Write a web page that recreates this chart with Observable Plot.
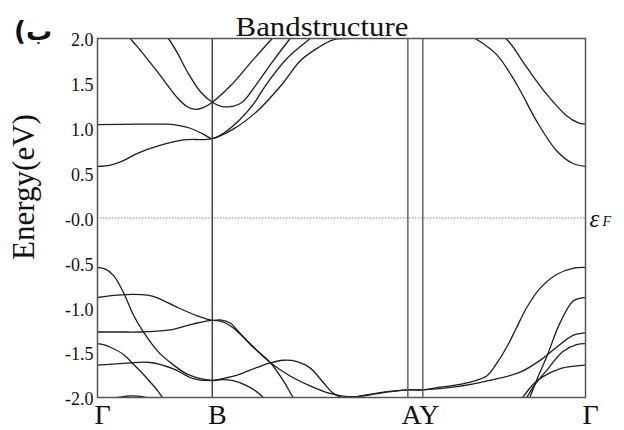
<!DOCTYPE html>
<html><head><meta charset="utf-8">
<script src="https://cdn.jsdelivr.net/npm/d3@7"></script>
<script src="https://cdn.jsdelivr.net/npm/@observablehq/plot@0.6"></script>
<style>
body{margin:0;background:#fff;}
#wrap{position:relative;width:624px;height:430px;overflow:hidden;background:#fff;}
#chart{position:absolute;left:0;top:0;}
#title{position:absolute;left:222px;width:200px;top:13px;text-align:center;font-family:"Liberation Serif",serif;font-size:28px;line-height:28px;color:#111;transform:scaleX(1.1);}
#ylab{position:absolute;left:-76px;top:170px;width:200px;height:34px;line-height:34px;text-align:center;font-family:"Liberation Serif",serif;font-size:31px;color:#111;transform:rotate(-90deg);}
#tag{position:absolute;left:14px;top:14px;font-family:"DejaVu Sans",sans-serif;font-weight:bold;font-size:26px;line-height:34px;color:#111;}
</style></head><body>
<div id="wrap">
  <div id="chart"></div>
  <div id="title">Bandstructure</div>
  <div id="ylab">Energy(eV)</div>
  <div id="tag" dir="rtl">ب)</div>
</div>
<script>
// k-path (arbitrary path-length units) and labels
const kLabels = ["Γ", "B", "A", "Y", "Γ"];
const kPos = [0, 115, 311, 326, 489];
// y ticks
const yTicks = [2, 1.5, 1, 0.5, 0, -0.5, -1, -1.5, -2];
const yTickLabels = ["2.0", "1.5", "1.0", "0.5", "-0.0", "-0.5", "-1.0", "-1.5", "-2.0"];
const fermi = 0;

// conduction bands [k, E(eV)]
const c1 = [[0,0.575],[13,0.59],[26,0.64],[40,0.72],[60,0.80],[86,0.87],[115,0.885],[136,0.99],[160,1.19],[185,1.49],[203,1.75],[220,1.89],[236,1.985],[250,2.0],[265,2.01]];
const c2 = [[0,1.04],[40,1.045],[70,1.045],[82,1.03],[93,1.0],[106,0.935],[115,0.885],[127,0.95],[143,1.10],[157,1.28],[168,1.47],[190,1.78],[213,2.0],[220,2.07]];
const cP = [[25,2.12],[33,2.0],[45,1.84],[60,1.63],[80,1.34],[90,1.24],[98,1.21],[106,1.23],[115,1.29],[133,1.47],[155,1.75],[175,2.0],[183,2.1]];
const cQ = [[62,2.12],[71,2.0],[80,1.84],[90,1.63],[103,1.41],[115,1.29],[124,1.245],[133,1.24],[145,1.29],[158,1.47],[176,1.75],[193,2.0],[200,2.1]];
const c3 = [[395,2.08],[410,1.99],[430,1.68],[450,1.38],[470,1.14],[482,1.06],[489,1.045]];
const c4 = [[365,2.08],[380,1.99],[400,1.82],[420,1.49],[440,1.08],[460,0.75],[476,0.61],[489,0.575]];

// valence bands [k, E(eV)]
const v1 = [[0,-0.55],[8,-0.57],[16,-0.64],[26,-0.83],[36,-1.08],[46,-1.27],[60,-1.48],[73,-1.61],[90,-1.74],[115,-1.81],[125,-1.80],[135,-1.81],[150,-1.87],[160,-1.94],[168,-2.02],[175,-2.1]];
const v2 = [[0,-0.886],[20,-0.86],[36,-0.85],[50,-0.86],[60,-0.89],[80,-0.996],[100,-1.09],[115,-1.14],[123,-1.135],[133,-1.17],[140,-1.25],[156,-1.44],[173,-1.61],[186,-1.81],[196,-2.0],[202,-2.1]];
const v3 = [[0,-1.27],[20,-1.27],[43,-1.27],[60,-1.26],[76,-1.24],[96,-1.18],[115,-1.14],[123,-1.15],[133,-1.20],[153,-1.40],[173,-1.61],[193,-1.76],[213,-1.87],[233,-1.955],[250,-1.99],[265,-1.985],[290,-1.94],[311,-1.915],[326,-1.915],[360,-1.88],[393,-1.81],[423,-1.72],[443,-1.59],[460,-1.44],[476,-1.31],[489,-1.28]];
const v4 = [[0,-1.40],[6,-1.41],[13,-1.44],[26,-1.52],[36,-1.63],[45,-1.73],[53,-1.83],[60,-1.92],[65,-2.0],[70,-2.08]];
const v5 = [[0,-1.64],[26,-1.62],[53,-1.61],[76,-1.68],[96,-1.79],[115,-1.81],[125,-1.79],[140,-1.75],[160,-1.665],[173,-1.615],[186,-1.585],[200,-1.60],[213,-1.67],[226,-1.83],[236,-1.95],[245,-2.0],[255,-2.0],[265,-1.98],[290,-1.935],[311,-1.915],[326,-1.915],[343,-1.885],[360,-1.86],[376,-1.82],[390,-1.76],[400,-1.62],[410,-1.44],[420,-1.22],[430,-1.0],[443,-0.79],[460,-0.63],[476,-0.56],[489,-0.55]];
const v6 = [[5,-2.03],[20,-2.0],[33,-1.982],[45,-1.99],[58,-2.03]];
const r1 = [[428,-2.1],[433,-2.0],[441,-1.78],[450,-1.55],[463,-1.18],[476,-0.93],[483,-0.895],[489,-0.886]];
const r2 = [[424,-2.1],[430,-2.0],[440,-1.83],[450,-1.70],[466,-1.49],[480,-1.41],[489,-1.40]];
const r3 = [[420,-2.1],[426,-2.0],[436,-1.86],[446,-1.77],[463,-1.68],[478,-1.65],[489,-1.64]];

const bandList = [["c1",c1],["c2",c2],["cP",cP],["cQ",cQ],["c3",c3],["c4",c4],
  ["v1",v1],["v2",v2],["v3",v3],["v4",v4],["v5",v5],["v6",v6],["r1",r1],["r2",r2],["r3",r3]];
const rows = bandList.flatMap(([name, pts]) => pts.map(([k, e]) => ({band: name, k, e})));

const labelFont = "Liberation Serif";
// Γ, B, Γ centred on their ticks; A and Y (adjacent points) drawn as one kerned pair between their ticks
const kTextRows = [
  {k: kPos[0], t: kLabels[0]},
  {k: kPos[1], t: kLabels[1]},
  {k: (kPos[2] + kPos[3]) / 2, t: kLabels[2] + kLabels[3]},
  {k: kPos[4], t: kLabels[4]}
];

const plot = Plot.plot({
  width: 624, height: 430,
  marginLeft: 97, marginRight: 39, marginTop: 38, marginBottom: 33,
  x: {domain: [kPos[0], kPos[4]], axis: null},
  y: {domain: [-2, 2], axis: null},
  style: {background: "transparent", fontFamily: labelFont, color: "#111"},
  marks: [
    Plot.ruleY([fermi], {stroke: "#888", strokeDasharray: "1.5,1.5", strokeWidth: 1}),
    Plot.line(rows, {x: "k", y: "e", z: "band", curve: "catmull-rom", stroke: "#1e1e1e", strokeWidth: 1.3, clip: true}),
    Plot.ruleX([kPos[1]], {stroke: "#33335f", strokeWidth: 1.4}),
    Plot.ruleX([kPos[2], kPos[3]], {stroke: "#5a5a5a", strokeWidth: 1.4}),
    Plot.frame({stroke: "#555", strokeWidth: 1.5}),
    Plot.axisY({ticks: yTicks, tickFormat: d => yTickLabels[yTicks.indexOf(d)], tickSize: 0, tickPadding: 4, fontSize: 18, label: null, dy: 2, fontFamily: labelFont}),
    Plot.text(kTextRows, {x: "k", text: "t", frameAnchor: "bottom", lineAnchor: "top", dy: 7, dx: 5, fontSize: 28, fontFamily: labelFont}),
    Plot.text([{e: fermi}], {y: "e", text: () => "ε", frameAnchor: "right", textAnchor: "start", dx: 4, dy: 1, fontSize: 25, fontStyle: "italic", fontFamily: labelFont}),
    Plot.text([{e: fermi}], {y: "e", text: () => "F", frameAnchor: "right", textAnchor: "start", dx: 17, dy: 4, fontSize: 14, fontStyle: "italic", fontFamily: labelFont})
  ]
});
document.getElementById("chart").appendChild(plot);
</script>
</body></html>
